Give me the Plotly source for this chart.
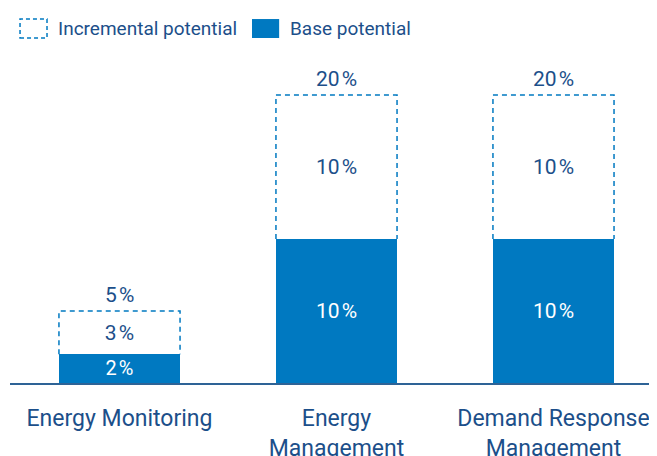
import plotly.graph_objects as go

categories = ["Energy Monitoring", "Energy<br>Management", "Demand Response<br>Management"]
base = [2, 10, 10]
incremental = [3, 10, 10]
total = [b + i for b, i in zip(base, incremental)]

BLUE = "#0079C1"
TEXT = "#1C4F8A"
FONT = "Roboto"
W = 0.558
PCT = "\u200a%"

xs = list(range(len(categories)))
fig = go.Figure()
fig.add_trace(go.Bar(x=xs, y=base, width=W, marker=dict(color=BLUE, line=dict(width=0)),
                     text=[f"{v}{PCT}" for v in base], textposition="inside", insidetextanchor="middle",
                     textfont=dict(color="white", size=21, family=FONT), showlegend=False))
fig.add_trace(go.Bar(x=xs, y=incremental, width=W, marker=dict(color="rgba(0,0,0,0)", line=dict(width=0)),
                     text=[f"{v}{PCT}" for v in incremental], textposition="inside", insidetextanchor="middle",
                     textfont=dict(color=TEXT, size=21, family=FONT), showlegend=False))
# dashed outline of incremental segment
for x, b, t in zip(xs, base, total):
    fig.add_trace(go.Scatter(x=[x - W / 2, x - W / 2, x + W / 2, x + W / 2], y=[b, t, t, b],
                             mode="lines", line=dict(color=BLUE, width=1.5, dash="5px,4px"),
                             showlegend=False, hoverinfo="skip"))
for x, t in zip(xs, total):
    fig.add_annotation(x=x, y=t, text=f"{t}{PCT}", showarrow=False, yanchor="middle", yshift=16,
                       font=dict(color=TEXT, size=21, family=FONT))

# legend
fig.add_shape(type="rect", xref="paper", yref="paper", x0=0.0155, x1=0.0572, y0=1.036, y1=1.093,
              line=dict(color=BLUE, width=1.5, dash="4px,3px"), fillcolor="rgba(0,0,0,0)")
fig.add_shape(type="rect", xref="paper", yref="paper", x0=0.374, x1=0.416, y0=1.036, y1=1.093,
              line=dict(width=0), fillcolor=BLUE)
fig.add_annotation(xref="paper", yref="paper", x=0.071, y=1.065, text="Incremental potential",
                   showarrow=False, xanchor="left", yanchor="middle",
                   font=dict(color=TEXT, size=19, family=FONT))
fig.add_annotation(xref="paper", yref="paper", x=0.4297, y=1.065, text="Base potential",
                   showarrow=False, xanchor="left", yanchor="middle",
                   font=dict(color=TEXT, size=19, family=FONT))

fig.update_layout(
    width=649, height=448, margin=dict(l=2, r=0, t=42, b=73),
    barmode="stack", plot_bgcolor="white", paper_bgcolor="white",
    xaxis=dict(range=[-0.5046, 2.477], tickvals=xs, ticktext=categories, showgrid=False,
               zeroline=False, showline=True, linecolor="#2E6396", linewidth=1.5, automargin=False,
               ticks="", ticklabelstandoff=14, tickfont=dict(color=TEXT, size=23, family=FONT)),
    yaxis=dict(range=[0, 23.125], visible=False, automargin=False),
    font=dict(family=FONT),
)
fig.write_html("out.html")
